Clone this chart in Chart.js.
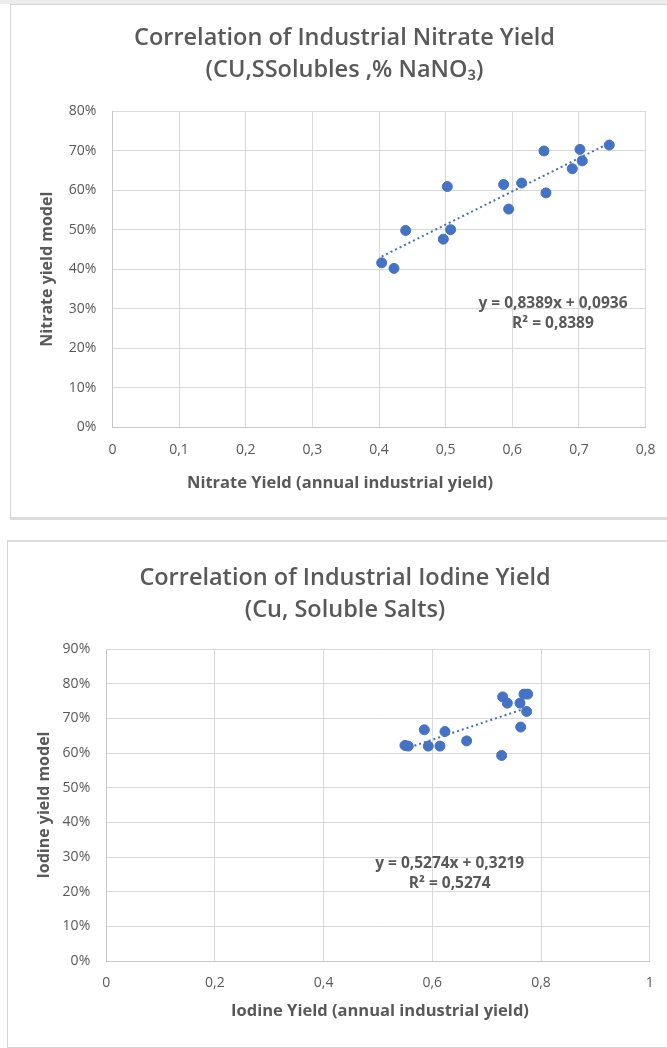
<!DOCTYPE html>
<html>
<head>
<meta charset="utf-8">
<script src="https://cdn.jsdelivr.net/npm/chart.js@4"></script>
<style>
  html, body { margin: 0; padding: 0; background: #fff; overflow: hidden; }
  body { width: 667px; height: 1048px; position: relative; }
  .strip { position: absolute; left: 0; top: 0; width: 667px; height: 4px; background: #ececec; }
  .panel { position: absolute; border: 1px solid #d6d6d6; background: #fff; }
  #p1 { left: 10px; top: 4px; width: 667px; height: 512px; border-bottom: 3px solid #dcdcdc; }
  #p2 { left: 7px; top: 540px; width: 674px; height: 505px; border-top: 2px solid #dcdcdc; }
  #p2 canvas { position: absolute; left: 0; top: -1px; }
  canvas { display: block; }
</style>
</head>
<body>
<div class="strip"></div>
<div class="panel" id="p1"><canvas id="nitrate" width="667" height="512"></canvas></div>
<div class="panel" id="p2"><canvas id="iodine" width="674" height="505"></canvas></div>
<script>
// nitrate chart (top)
var nitrate_x = [0.404, 0.4225, 0.44, 0.4965, 0.5075, 0.5025, 0.587, 0.5945, 0.614, 0.6475, 0.6505, 0.69, 0.7015, 0.705, 0.7455];
var nitrate_y = [0.416, 0.402, 0.498, 0.476, 0.50, 0.609, 0.614, 0.552, 0.618, 0.699, 0.593, 0.654, 0.703, 0.674, 0.714];
var nitrate_trend_x = [0.404, 0.7455];
var nitrate_trend_y = [0.432, 0.719];
var nitrate_x_labels = ['0', '0,1', '0,2', '0,3', '0,4', '0,5', '0,6', '0,7', '0,8'];
var nitrate_y_labels = ['0%', '10%', '20%', '30%', '40%', '50%', '60%', '70%', '80%'];

// iodine chart (bottom)
var iodine_x = [0.5497, 0.5558, 0.5853, 0.5926, 0.6141, 0.6233, 0.6632, 0.7276, 0.7294, 0.738, 0.7613, 0.7626, 0.7687, 0.7755, 0.7736];
var iodine_y = [0.622, 0.620, 0.667, 0.620, 0.620, 0.662, 0.635, 0.593, 0.762, 0.744, 0.744, 0.675, 0.770, 0.770, 0.720];
var iodine_trend_x = [0.5497, 0.7755];
var iodine_trend_y = [0.612, 0.731];
var iodine_x_labels = ['0', '0,2', '0,4', '0,6', '0,8', '1'];
var iodine_y_labels = ['0%', '10%', '20%', '30%', '40%', '50%', '60%', '70%', '80%', '90%'];

var text_color = '#595959';
var grid_color = '#d9d9d9';
var font_name = "'Open Sans', sans-serif";

function points(xs, ys) {
    return xs.map((x, i) => ({x: x, y: ys[i]}));
}

// equation labels and x axis title, drawn after the chart
var notes_plugin = {
    id: 'notes',
    afterDraw(chart, args, opts) {
        var ctx = chart.ctx;
        ctx.save();
        ctx.fillStyle = text_color;
        ctx.textAlign = 'center';
        ctx.textBaseline = 'middle';
        (opts.items || []).forEach(n => {
            ctx.font = n.font;
            var px = n.pixel ? n.x : chart.scales.x.getPixelForValue(n.x);
            var py = n.pixel ? n.y : chart.scales.y.getPixelForValue(n.y);
            ctx.fillText(n.text, px, py);
        });
        ctx.restore();
    }
};

function scatter_chart(canvas, cfg) {
    return new Chart(canvas, {
        type: 'scatter',
        data: {
            datasets: [
                {
                    type: 'line',
                    data: points(cfg.trend_x, cfg.trend_y),
                    borderColor: '#4a6fb5',
                    borderWidth: 2,
                    borderDash: [2, 3],
                    pointRadius: 0,
                    fill: false,
                    order: 0
                },
                {
                    data: points(cfg.xs, cfg.ys),
                    backgroundColor: '#4472c4',
                    borderColor: '#4472c4',
                    pointRadius: 5,
                    order: 1
                }
            ]
        },
        options: {
            responsive: false,
            animation: false,
            layout: { padding: { left: cfg.pad_side, right: cfg.pad_side, top: 0, bottom: 0 } },
            plugins: {
                legend: { display: false },
                tooltip: { enabled: false },
                title: {
                    display: true,
                    text: cfg.title,
                    color: text_color,
                    font: { family: font_name, size: 23.5, weight: '600', lineHeight: 1.38 },
                    padding: { top: cfg.title_top, bottom: cfg.title_bottom }
                },
                notes: { items: cfg.notes }
            },
            scales: {
                x: {
                    type: 'linear',
                    min: 0,
                    max: cfg.x_max,
                    afterFit: s => { s.height = cfg.x_height; },
                    ticks: {
                        stepSize: cfg.x_step,
                        padding: 14,
                        color: text_color,
                        font: { family: font_name, size: 14 },
                        callback: (v, i) => cfg.x_labels[i]
                    },
                    grid: { color: grid_color, drawTicks: false },
                    border: { color: '#c8c8c8' }
                },
                y: {
                    min: 0,
                    max: cfg.y_max,
                    afterFit: s => { s.width = cfg.y_width; },
                    ticks: {
                        stepSize: 0.1,
                        padding: 16,
                        color: text_color,
                        font: { family: font_name, size: 14 },
                        callback: (v, i) => cfg.y_labels[i]
                    },
                    title: {
                        display: true,
                        text: cfg.y_title,
                        color: text_color,
                        font: { family: font_name, size: 16, weight: 'bold' },
                        padding: { top: cfg.y_title_pad, bottom: 0 }
                    },
                    grid: { color: grid_color, drawTicks: false },
                    border: { color: '#c8c8c8' }
                }
            }
        },
        plugins: [notes_plugin]
    });
}

var note_font = "bold 15.5px " + font_name;
var axis_font = "bold 16.5px " + font_name;

scatter_chart(document.getElementById('nitrate'), {
    title: ['Correlation of Industrial Nitrate Yield', '(CU,SSolubles ,% NaNO\u2083)'],
    title_top: 16.8, title_bottom: 24.4,
    xs: nitrate_x, ys: nitrate_y,
    trend_x: nitrate_trend_x, trend_y: nitrate_trend_y,
    x_max: 0.8, x_step: 0.1, x_labels: nitrate_x_labels,
    y_max: 0.8, y_labels: nitrate_y_labels,
    y_title: 'Nitrate yield model', y_title_pad: -6,
    y_width: 69, x_height: 89.7, pad_side: 32.4,
    notes: [
        { text: 'y = 0,8389x + 0,0936', x: 0.661, y: 0.313, font: note_font },
        { text: 'R\u00b2 = 0,8389', x: 0.661, y: 0.262, font: note_font },
        { text: 'Nitrate Yield (annual industrial yield)', x: 329, y: 478, pixel: true, font: axis_font }
    ]
});

scatter_chart(document.getElementById('iodine'), {
    title: ['Correlation of Industrial Iodine Yield', '(Cu, Soluble Salts)'],
    title_top: 20.8, title_bottom: 22.4,
    xs: iodine_x, ys: iodine_y,
    trend_x: iodine_trend_x, trend_y: iodine_trend_y,
    x_max: 1, x_step: 0.2, x_labels: iodine_x_labels,
    y_max: 0.9, y_labels: iodine_y_labels,
    y_title: 'Iodine yield model', y_title_pad: -5.9,
    y_width: 65.9, x_height: 85, pad_side: 32.3,
    notes: [
        { text: 'y = 0,5274x + 0,3219', x: 0.632, y: 0.282, font: note_font },
        { text: 'R\u00b2 = 0,5274', x: 0.632, y: 0.222, font: note_font },
        { text: 'Iodine Yield (annual industrial yield)', x: 372, y: 470, pixel: true, font: axis_font }
    ]
});
</script>
</body>
</html>
